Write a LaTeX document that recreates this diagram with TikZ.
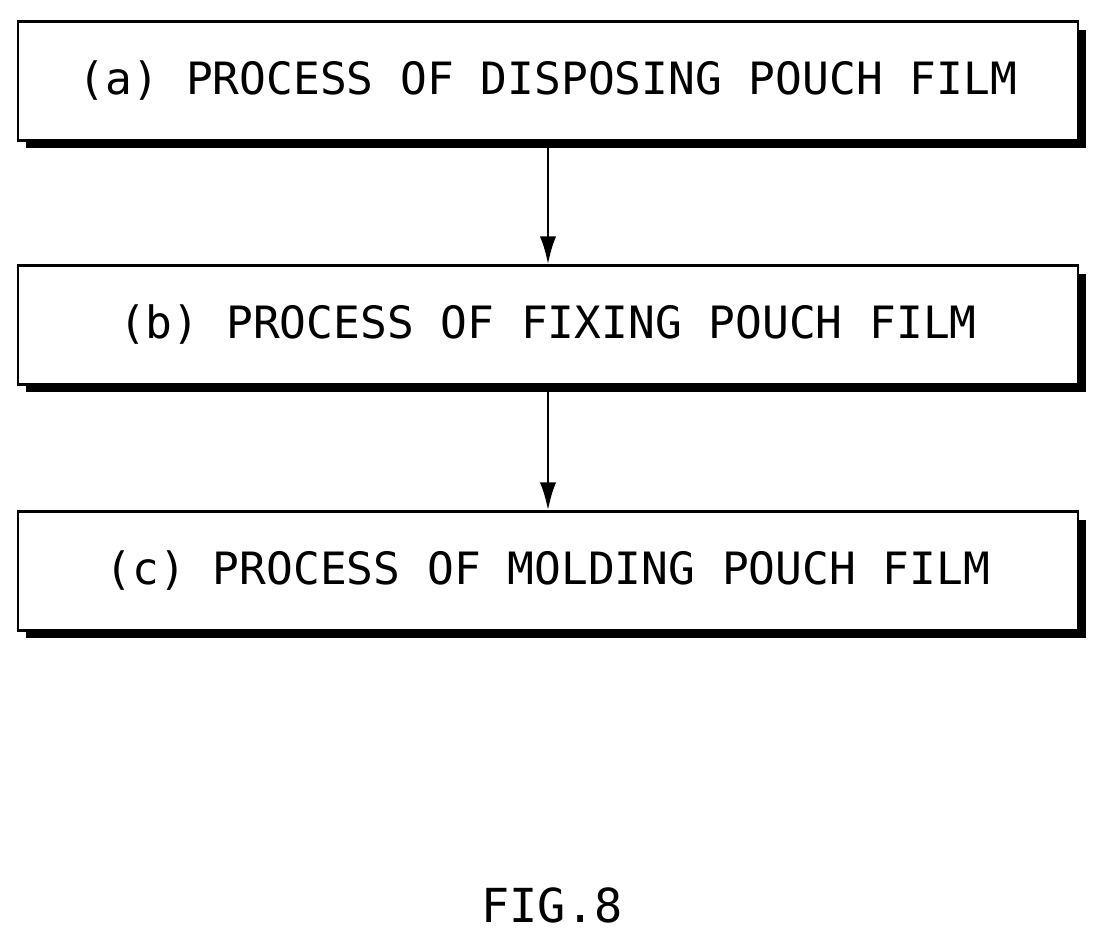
\documentclass[tikz,border=0pt]{standalone}
\usepackage{fontspec}
\setmonofont{DejaVu Sans Mono}
\usetikzlibrary{shapes,arrows,arrows.meta,shadows}

\begin{document}
\begin{tikzpicture}[x=0.03cm,y=-0.03cm,
  process/.style={draw, line width=2.4pt, fill=white, minimum width=31.8cm, minimum height=3.55cm,
    font=\fontsize{38}{44}\selectfont\ttfamily,
    drop shadow={shadow xshift=0.24cm, shadow yshift=-0.24cm, fill=black, opacity=1}},
  flow/.style={-{Latex[length=24pt,width=14pt]}, line width=2.4pt}]
  \useasboundingbox (0,0) rectangle (1105,941);

  \node[process] (a) at (548,81) {(a) PROCESS OF DISPOSING POUCH FILM};
  \node[process] (b) at (548,325) {(b) PROCESS OF FIXING POUCH FILM};
  \node[process] (c) at (548,571) {(c) PROCESS OF MOLDING POUCH FILM};

  \draw[flow] (a) -- (b);
  \draw[flow] (b) -- (c);

  \node[font=\fontsize{40}{46}\selectfont\ttfamily] (fig) at (552,905) {FIG.8};
\end{tikzpicture}
\end{document}
